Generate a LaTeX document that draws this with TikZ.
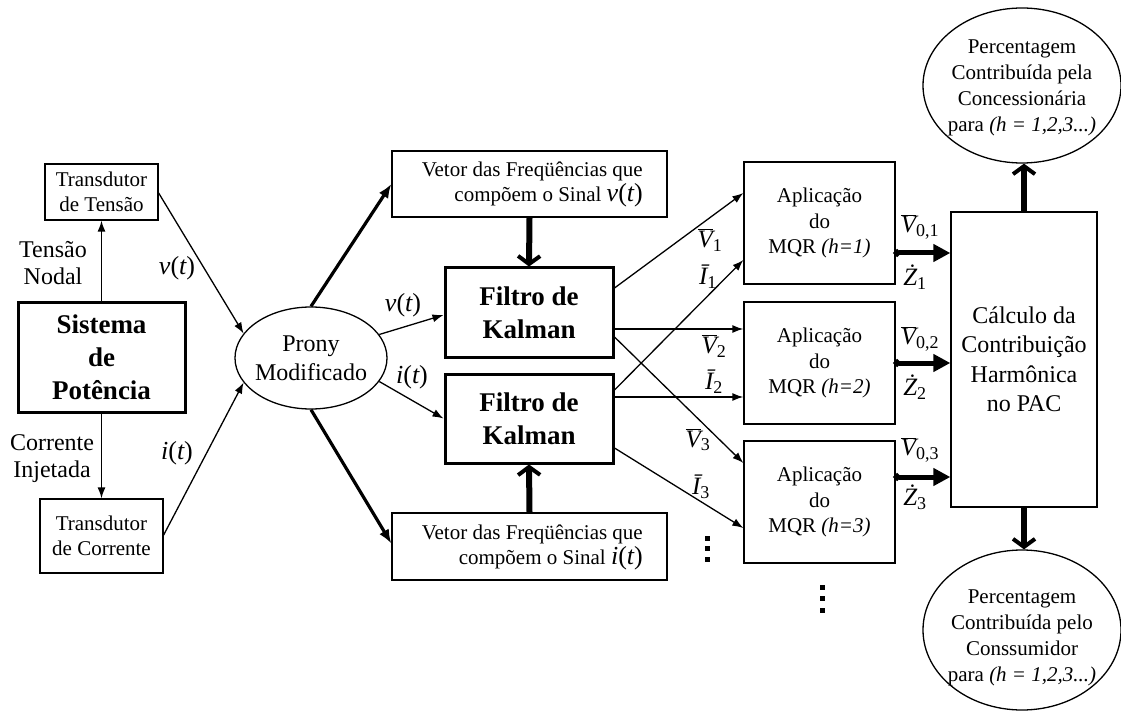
\documentclass[tikz,border=0pt]{standalone}
\usepackage{fontspec}
\setmainfont{Liberation Serif}
\usetikzlibrary{arrows.meta,shapes.geometric,calc}
\newcommand\mvar[1]{\mbox{\itshape #1}}
\newcommand\msb[1]{\mbox{\fontsize{18}{18}\selectfont #1}}
\newcommand\Vb[1]{$\overline{\mvar{V}}_{\msb{#1}}$}
\newcommand\Ib[1]{$\mvar{Ī}_{\msb{#1}}$}
\newcommand\Zd[1]{$\mvar{Ż}_{\msb{#1}}$}
\tikzset{
  every node/.style={inner sep=0pt},
  box/.style={draw, line width=1.3pt, rectangle, align=center, font=\fontsize{21}{25.5}\selectfont},
  boldbox/.style={draw, line width=3pt, rectangle, align=center, font=\fontsize{27}{33}\selectfont\bfseries},
  oval/.style={draw, line width=1.3pt, ellipse},
  ovaltext/.style={align=center, font=\fontsize{21}{26}\selectfont},
  lbl/.style={align=center, font=\fontsize{24}{27}\selectfont},
  mlbl/.style={font=\fontsize{26}{26}\selectfont},
  vlbl/.style={font=\fontsize{25}{25}\selectfont},
  thinarrow/.style={line width=1.3pt, -{Latex[length=11pt,width=8pt]}},
  thickarrow/.style={line width=3.2pt, -{Latex[length=14pt,width=11pt]}},
  barbarrow/.style={line width=6pt, -{Straight Barb[length=8pt,width=22pt,line width=4pt]}},
  dotarrow/.style={line width=5pt, {Circle[length=7pt]}-{Triangle[length=17pt,width=17pt]}},
}
\begin{document}
\begin{tikzpicture}[x=1pt,y=-1pt]
\path[use as bounding box] (0,0) rectangle (1121,711);

% left column
\node[box, minimum width=113pt, minimum height=56pt] (tt) at (101.5,192) {Transdutor\\de Tensão};
\node[boldbox, minimum width=167pt, minimum height=110pt] (sp) at (101.5,357) {Sistema\\de\\Potência};
\node[box, minimum width=123pt, minimum height=74pt] (tc) at (101.5,536) {Transdutor\\de Corrente};
\node[lbl] (tn) at (53,263) {Tensão\\Nodal};
\node[lbl] (ci) at (52,459) {Corrente\\Injetada};

% Prony
\node[oval, minimum width=152pt, minimum height=102pt] (pr) at (311,358) {};
\node[align=center, font=\fontsize{24}{29}\selectfont] (prt) at (311,358) {Prony\\Modificado};

% vectors
\node[box, minimum width=275pt, minimum height=66pt] (vt) at (529.5,184) {};
\node[align=right, anchor=east, font=\fontsize{21}{25}\selectfont] (vtt) at (643,184.5)
  {Vetor das Freqüências que\\compõem o Sinal {\fontsize{26}{26}\selectfont\mvar{v}(\mvar{t})}};
\node[box, minimum width=275pt, minimum height=67pt] (vb) at (529.5,546.5) {};
\node[align=right, anchor=east, font=\fontsize{21}{25}\selectfont] (vbt) at (643,547.5)
  {Vetor das Freqüências que\\compõem o Sinal {\fontsize{26}{26}\selectfont\mvar{i}(\mvar{t})}};

% Kalman filters
\node[boldbox, minimum width=168pt, minimum height=89pt] (kf1) at (529,312.5) {Filtro de\\Kalman};
\node[boldbox, minimum width=168pt, minimum height=89pt] (kf2) at (529,418.5) {Filtro de\\Kalman};

% MQR boxes
\node[box, minimum width=151pt, minimum height=122pt] (ap1) at (819.5,223) {Aplicação\\do\\MQR \textit{(h=1)}};
\node[box, minimum width=151pt, minimum height=122pt] (ap2) at (819.5,363) {Aplicação\\do\\MQR \textit{(h=2)}};
\node[box, minimum width=151pt, minimum height=122pt] (ap3) at (819.5,502) {Aplicação\\do\\MQR \textit{(h=3)}};

% calculation
\node[box, font=\fontsize{24}{29.5}\selectfont, minimum width=146pt, minimum height=295pt] (calc) at (1024,359.5)
  {Cálculo da\\Contribuição\\Harmônica\\no PAC};

% result ellipses
\node[oval, minimum width=198pt, minimum height=155pt] (pt) at (1022,85.5) {};
\node[ovaltext] (ptt) at (1022,87.5) {Percentagem\\Contribuída pela\\Concessionária\\para \textit{(h = 1,2,3...)}};
\node[oval, minimum width=198pt, minimum height=160pt] (pb) at (1022,630) {};
\node[ovaltext] (pbt) at (1022,637.5) {Percentagem\\Contribuída pelo\\Conssumidor\\para \textit{(h = 1,2,3...)}};

% left connectors
\draw[thinarrow] (sp.north) -- (tt.south);
\draw[thinarrow] (sp.south) -- (tc.north);
\draw[thinarrow] ($(tt.east)+(0,1)$) -- (pr.160);
\draw[thinarrow] ($(tc.east)+(0,-1)$) -- (pr.200);
\node[mlbl] (lv1) at (177,268) {\mvar{v}(\mvar{t})};
\node[mlbl] (li1) at (177,453) {\mvar{i}(\mvar{t})};

% Prony outputs
\draw[thickarrow] (pr.90) -- (vt.west);
\draw[thickarrow] (pr.-90) -- ($(vb.west)+(0,-3)$);
\draw[thinarrow] (pr.19) -- ($(kf1.west)+(0,2.5)$);
\draw[thinarrow] (pr.-19) -- (kf2.west);
\node[mlbl] (lv2) at (403,305) {\mvar{v}(\mvar{t})};
\node[mlbl] (li2) at (412,377) {\mvar{i}(\mvar{t})};
\draw[barbarrow] (vt.south) -- (kf1.north);
\draw[barbarrow] (vb.north) -- (kf2.south);

% Kalman to MQR
\draw[thinarrow] ($(kf1.east)+(0,-24.5)$) -- ($(ap1.west)+(0,-30)$);
\draw[thinarrow] ($(kf2.east)+(0,-28.5)$) -- ($(ap1.west)+(0,37)$);
\draw[thinarrow] ($(kf1.east)+(0,16.5)$) -- ($(ap2.west)+(0,-34)$);
\draw[thinarrow] ($(kf2.east)+(0,-21.5)$) -- ($(ap2.west)+(0,34)$);
\draw[thinarrow] ($(kf1.east)+(0,24.5)$) -- ($(ap3.west)+(0,-39)$);
\draw[thinarrow] ($(kf2.east)+(0,29.5)$) -- ($(ap3.west)+(0,26)$);
\node[vlbl] (lV1) at (710,240) {\Vb{1}};
\node[vlbl] (lI1) at (708,277) {\Ib{1}};
\node[vlbl] (lV2) at (714,346) {\Vb{2}};
\node[vlbl] (lI2) at (714,382) {\Ib{2}};
\node[vlbl] (lV3) at (698,440) {\Vb{3}};
\node[vlbl] (lI3) at (701,487) {\Ib{3}};

% MQR to calculation
\coordinate (a1) at ($(ap1.east)+(-2,30)$);
\coordinate (a2) at ($(ap2.east)+(-2,0)$);
\coordinate (a3) at ($(ap3.east)+(-2,-25)$);
\draw[dotarrow] (a1) -- (a1 -| calc.west);
\draw[dotarrow] (a2) -- (a2 -| calc.west);
\draw[dotarrow] (a3) -- (a3 -| calc.west);
\node[vlbl] (lV01) at (920,227) {\Vb{0,1}};
\node[vlbl] (lZ1) at (915,277) {\Zd{1}};
\node[vlbl] (lV02) at (920,339) {\Vb{0,2}};
\node[vlbl] (lZ2) at (915,387) {\Zd{2}};
\node[vlbl] (lV03) at (920,450) {\Vb{0,3}};
\node[vlbl] (lZ3) at (915,497) {\Zd{3}};

% calculation to results
\draw[barbarrow] (calc.north) -- (calc.north |- pt.south);
\draw[barbarrow] (calc.south) -- (calc.south |- pb.north);

% continuation dots
\foreach \yy in {538,548.5,559} \fill (704.5,\yy-2.5) rectangle ++(5,5);
\foreach \yy in {587,598.5,610} \fill (819.5,\yy-2.5) rectangle ++(5,5);
\end{tikzpicture}
\end{document}
